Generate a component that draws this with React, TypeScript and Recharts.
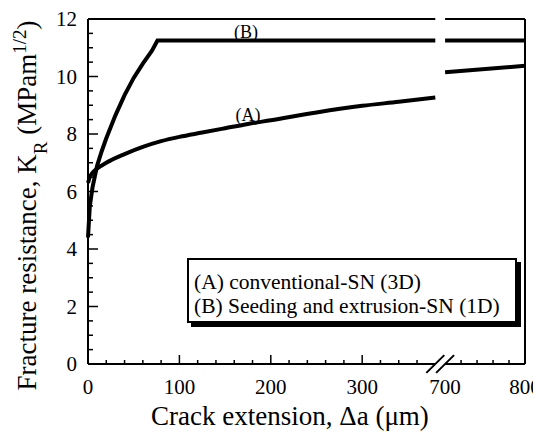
import { LineChart, Line, XAxis, YAxis, ReferenceLine, ReferenceDot, Legend } from 'recharts';

// R-curves: crack extension (um) -> K_R (MPa m^1/2)
const aX = [0, 2, 5, 10, 20, 40, 60, 80, 100, 125, 150, 175, 200, 250, 300, 340, 380, 700, 800];
const aK = [6.3, 6.5, 6.65, 6.8, 7.0, 7.3, 7.55, 7.75, 7.9, 8.05, 8.2, 8.35, 8.48, 8.75, 8.98, 9.12, 9.27, 10.15, 10.37];
const bX = [0, 2, 5, 10, 15, 20, 30, 40, 50, 60, 70, 76, 380, 700, 800];
const bK = [4.4, 5.5, 6.15, 6.9, 7.4, 7.85, 8.65, 9.35, 9.95, 10.45, 10.9, 11.25, 11.25, 11.25, 11.25];

const xMajor = [0, 100, 200, 300, 700, 800];
const xMinor = [20, 40, 60, 80, 120, 140, 160, 180, 220, 240, 260, 280, 320, 340, 360, 720, 740, 760, 780];
const yMajor = [0, 2, 4, 6, 8, 10, 12];

const legendItems = ['(A) conventional-SN (3D)', '(B) Seeding and extrusion-SN (1D)'];

// broken x axis: 0..380 then 700..800, each part with its own scale
const BREAK_LO = 380;
const BREAK_HI = 700;
const LEFT_SCALE = 0.915;
const RIGHT_START = 357.5;
const RIGHT_SCALE = 0.8;
const U_MAX = RIGHT_START + (800 - BREAK_HI) * RIGHT_SCALE;
const toU = (x: number) => (x <= BREAK_LO ? x * LEFT_SCALE : RIGHT_START + (x - BREAK_HI) * RIGHT_SCALE);

const FONT = '"Liberation Serif", "Times New Roman", serif';

function segments(xs: number[], ks: number[]) {
  const rows: { u: number; k: number | null }[] = [];
  xs.forEach((x, i) => {
    if (x >= BREAK_HI && i > 0 && xs[i - 1] <= BREAK_LO) {
      rows.push({ u: (toU(BREAK_LO) + RIGHT_START) / 2, k: null });
    }
    rows.push({ u: toU(x), k: ks[i] });
  });
  return rows;
}

const dataA = segments(aX, aK);
const dataB = segments(bX, bK);

const xTicks = [...xMajor, ...xMinor].map(toU);
const yTicks: number[] = [];
for (let v = 0; v <= 12; v += 0.5) yTicks.push(v);

const XTick = (props: any) => {
  const { x, y, payload } = props;
  const major = xMajor.find((m) => Math.abs(toU(m) - payload.value) < 0.01);
  const isMajor = major !== undefined;
  const showLine = major !== BREAK_HI;
  return (
    <g>
      {showLine && <line x1={x} x2={x} y1={y} y2={y - (isMajor ? 9 : 4)} stroke="#000" strokeWidth={1.5} />}
      {isMajor && (
        <text x={x} y={y + 30} textAnchor="middle" fontSize={21} fontFamily={FONT} fill="#000">
          {major}
        </text>
      )}
    </g>
  );
};

const YTick = (props: any) => {
  const { x, y, payload } = props;
  const isMajor = yMajor.includes(payload.value);
  return (
    <g>
      <line x1={x} x2={x + (isMajor ? 10 : 5)} y1={y} y2={y} stroke="#000" strokeWidth={1.5} />
      {isMajor && (
        <text x={x - 11} y={y} dy="0.35em" textAnchor="end" fontSize={21} fontFamily={FONT} fill="#000">
          {payload.value}
        </text>
      )}
    </g>
  );
};

const XTitle = (props: any) => {
  const vb = props.viewBox;
  return (
    <text x={vb.x + 202} y={vb.y + 61} textAnchor="middle" fontSize={27} fontFamily={FONT} fill="#000">
      Crack extension, Δa (μm)
    </text>
  );
};

const YTitle = (props: any) => {
  const vb = props.viewBox;
  const cx = 19;
  const cy = vb.y + vb.height / 2 + 14;
  return (
    <text
      x={cx}
      y={cy}
      dy="0.35em"
      transform={`rotate(-90, ${cx}, ${cy})`}
      textAnchor="middle"
      fontSize={27}
      fontFamily={FONT}
      fill="#000"
    >
      Fracture resistance, K
      <tspan baselineShift="sub" fontSize={19}>R</tspan>
      <tspan> (MPam</tspan>
      <tspan baselineShift="super" fontSize={19}>1/2</tspan>
      <tspan>)</tspan>
    </text>
  );
};

const LegendBox = () => (
  <div
    style={{
      boxSizing: 'border-box',
      width: 330,
      height: 65,
      border: '2px solid #000',
      boxShadow: '4px 4px 0 #000',
      background: '#fff',
      padding: '10px 0 0 5px',
      fontFamily: FONT,
      fontSize: 21.5,
      lineHeight: '24px',
      color: '#000',
      whiteSpace: 'nowrap',
    }}
  >
    {legendItems.map((t) => (
      <div key={t} style={{ fontFamily: FONT }}>
        {t}
      </div>
    ))}
  </div>
);

const curveLabel = (text: string) => (p: any) => (
  <text x={p.cx} y={p.cy} dy="0.35em" textAnchor="middle" fontSize={18} fontFamily={FONT} fill="#000">
    {text}
  </text>
);

const frame = { stroke: '#000', strokeWidth: 2 };

export default function App() {
  return (
    <div style={{ width: 533, height: 426, fontFamily: FONT }}>
      <LineChart width={533} height={426} margin={{ top: 11, right: 16, bottom: 10, left: 0 }}>
        <XAxis
          type="number"
          dataKey="u"
          domain={[0, U_MAX]}
          ticks={xTicks}
          interval={0}
          tick={<XTick />}
          tickLine={false}
          tickSize={0}
          tickMargin={0}
          axisLine={false}
          height={60}
          label={{ content: <XTitle /> }}
        />
        <YAxis
          type="number"
          domain={[0, 12]}
          ticks={yTicks}
          interval={0}
          tick={<YTick />}
          tickLine={false}
          tickSize={0}
          tickMargin={0}
          axisLine={frame}
          width={80}
          label={{ content: <YTitle /> }}
        />
        <ReferenceLine segment={[{ x: 0, y: 0 }, { x: toU(BREAK_LO), y: 0 }]} {...frame} />
        <ReferenceLine segment={[{ x: RIGHT_START, y: 0 }, { x: U_MAX, y: 0 }]} {...frame} />
        <ReferenceLine segment={[{ x: 0, y: 12 }, { x: toU(BREAK_LO), y: 12 }]} {...frame} />
        <ReferenceLine segment={[{ x: RIGHT_START, y: 12 }, { x: U_MAX, y: 12 }]} {...frame} />
        <ReferenceLine x={U_MAX} {...frame} />
        <ReferenceLine
          ifOverflow="visible"
          segment={[{ x: toU(BREAK_LO) - 9, y: -0.31 }, { x: toU(BREAK_LO) + 9, y: 0.31 }]}
          {...frame}
        />
        <ReferenceLine
          ifOverflow="visible"
          segment={[{ x: RIGHT_START - 9, y: -0.31 }, { x: RIGHT_START + 9, y: 0.31 }]}
          {...frame}
        />
        <Line
          data={dataA}
          dataKey="k"
          type="monotone"
          stroke="#000"
          strokeWidth={4}
          dot={false}
          connectNulls={false}
          isAnimationActive={false}
        />
        <Line
          data={dataB}
          dataKey="k"
          type="linear"
          stroke="#000"
          strokeWidth={4}
          dot={false}
          connectNulls={false}
          isAnimationActive={false}
        />
        <ReferenceDot x={toU(173)} y={11.55} r={0} shape={curveLabel('(B)')} />
        <ReferenceDot x={toU(175)} y={8.66} r={0} shape={curveLabel('(A)')} />
        <Legend
          layout="horizontal"
          verticalAlign="middle"
          align="center"
          content={<LegendBox />}
          wrapperStyle={{ left: 179, top: 250, width: 330, height: 65 }}
        />
      </LineChart>
    </div>
  );
}
